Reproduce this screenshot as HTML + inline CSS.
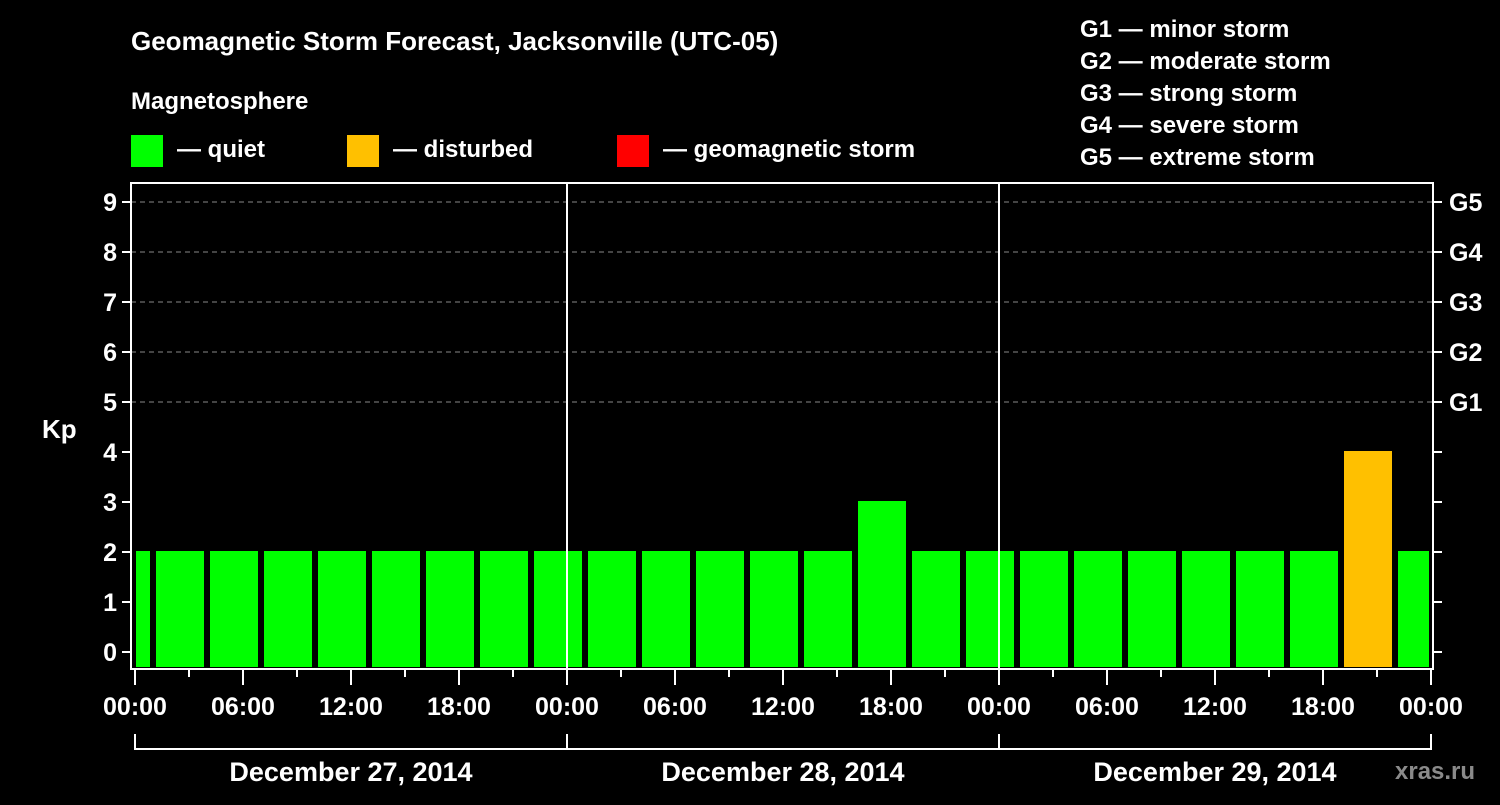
<!DOCTYPE html>
<html><head><meta charset="utf-8"><style>
body{margin:0;background:#000;width:1500px;height:800px;overflow:hidden;font-family:"Liberation Sans",sans-serif}
svg text{font-family:"Liberation Sans",sans-serif;font-weight:bold;fill:#fff}
</style></head><body>
<svg id="c" width="1500" height="800">
<text x="131" y="50" font-size="26">Geomagnetic Storm Forecast, Jacksonville (UTC-05)</text>
<text x="131" y="109" font-size="24">Magnetosphere</text>
<g>
<rect x="131" y="135" width="32" height="32" fill="#00ff00"/>
<text x="177" y="157" font-size="24">— quiet</text>
<rect x="347" y="135" width="32" height="32" fill="#ffc000"/>
<text x="393" y="157" font-size="24">— disturbed</text>
<rect x="617" y="135" width="32" height="32" fill="#ff0000"/>
<text x="663" y="157" font-size="24">— geomagnetic storm</text>
</g>
<g font-size="24">
<text x="1080" y="37">G1 — minor storm</text>
<text x="1080" y="69">G2 — moderate storm</text>
<text x="1080" y="101">G3 — strong storm</text>
<text x="1080" y="133">G4 — severe storm</text>
<text x="1080" y="165">G5 — extreme storm</text>
</g>
<text x="42" y="438" font-size="26">Kp</text>
<text x="1395" y="779" font-size="24" fill="#888" style="fill:#8a8a8a">xras.ru</text>
<g id="plot"></g>
</svg>
<script>
const kpValues=[2,2,2,2,2,2,2,2,2,2,2,2,2,2,3,2,2,2,2,2,2,2,2,4,2];
const barStartHours=[-2,1,4,7,10,13,16,19,22,25,28,31,34,37,40,43,46,49,52,55,58,61,64,67,70];
const yTicks=[0,1,2,3,4,5,6,7,8,9];
const gLabels=["G1","G2","G3","G4","G5"];
const gLevels=[5,6,7,8,9];
const xTickLabels=["00:00","06:00","12:00","18:00","00:00","06:00","12:00","18:00","00:00","06:00","12:00","18:00","00:00"];
const dayLabels=["December 27, 2014","December 28, 2014","December 29, 2014"];
const NS="http://www.w3.org/2000/svg";
const g=document.getElementById('plot');
const X=h=>135+h*18, Y=v=>652-v*50;
const L=131,R=1433,T=183,B=669;
function mk(t,a){const e=document.createElementNS(NS,t);for(const k in a)e.setAttribute(k,a[k]);g.appendChild(e);return e;}
// grid
yTicks.forEach(v=>{ if(v>=5){const e=mk('line',{x1:L,x2:R,y1:Y(v),y2:Y(v),stroke:'#888','stroke-dasharray':'5,4','stroke-width':1});

}});
// bars
const defs=document.createElementNS(NS,'defs');defs.innerHTML='<clipPath id="cp"><rect x="136" y="0" width="1293" height="800"/></clipPath>';g.appendChild(defs);
const bg=mk('g',{'clip-path':'url(#cp)'});
kpValues.forEach((v,i)=>{const x0=X(barStartHours[i])+3,x1=X(barStartHours[i]+3)-3;
const r=document.createElementNS(NS,'rect');
r.setAttribute('x',x0);r.setAttribute('width',x1-x0);r.setAttribute('y',Y(v)-1);r.setAttribute('height',B-2-Y(v)+1);
r.setAttribute('fill',v>=5?'#ff0000':v>=4?'#ffc000':'#00ff00');


bg.appendChild(r);});
// day lines
[1,2].forEach(d=>{const e=mk('line',{x1:X(d*24),x2:X(d*24),y1:T,y2:B,stroke:'#fff','stroke-width':2});

});
// frame
const f=mk('rect',{x:L,y:T,width:R-L,height:B-T,fill:'none',stroke:'#fff','stroke-width':2});


// y ticks
yTicks.forEach(v=>{mk('line',{x1:L-9,x2:L,y1:Y(v),y2:Y(v),stroke:'#fff','stroke-width':2});
mk('line',{x1:R,x2:R+9,y1:Y(v),y2:Y(v),stroke:'#fff','stroke-width':2});
const t=mk('text',{x:L-14,y:Y(v)+9,'font-size':25,'text-anchor':'end'});t.textContent=v;

});
gLabels.forEach((s,i)=>{const t=mk('text',{x:R+16,y:Y(gLevels[i])+9,'font-size':25});t.textContent=s;

});
// x ticks
for(let h=0;h<=72;h+=3){mk('line',{x1:X(h),x2:X(h),y1:B,y2:B+(h%6==0?16:8),stroke:'#fff','stroke-width':2});}
xTickLabels.forEach((s,i)=>{const t=mk('text',{x:X(i*6),y:715,'font-size':25,'text-anchor':'middle'});t.textContent=s;

});
mk('line',{x1:X(0),x2:X(72),y1:749,y2:749,stroke:'#fff','stroke-width':2});
[0,1,2,3].forEach(d=>mk('line',{x1:X(d*24),x2:X(d*24),y1:734,y2:750,stroke:'#fff','stroke-width':2}));
dayLabels.forEach((s,i)=>{const t=mk('text',{x:X(i*24+12),y:781,'font-size':27,'text-anchor':'middle'});t.textContent=s;

});
</script>
</body></html>
